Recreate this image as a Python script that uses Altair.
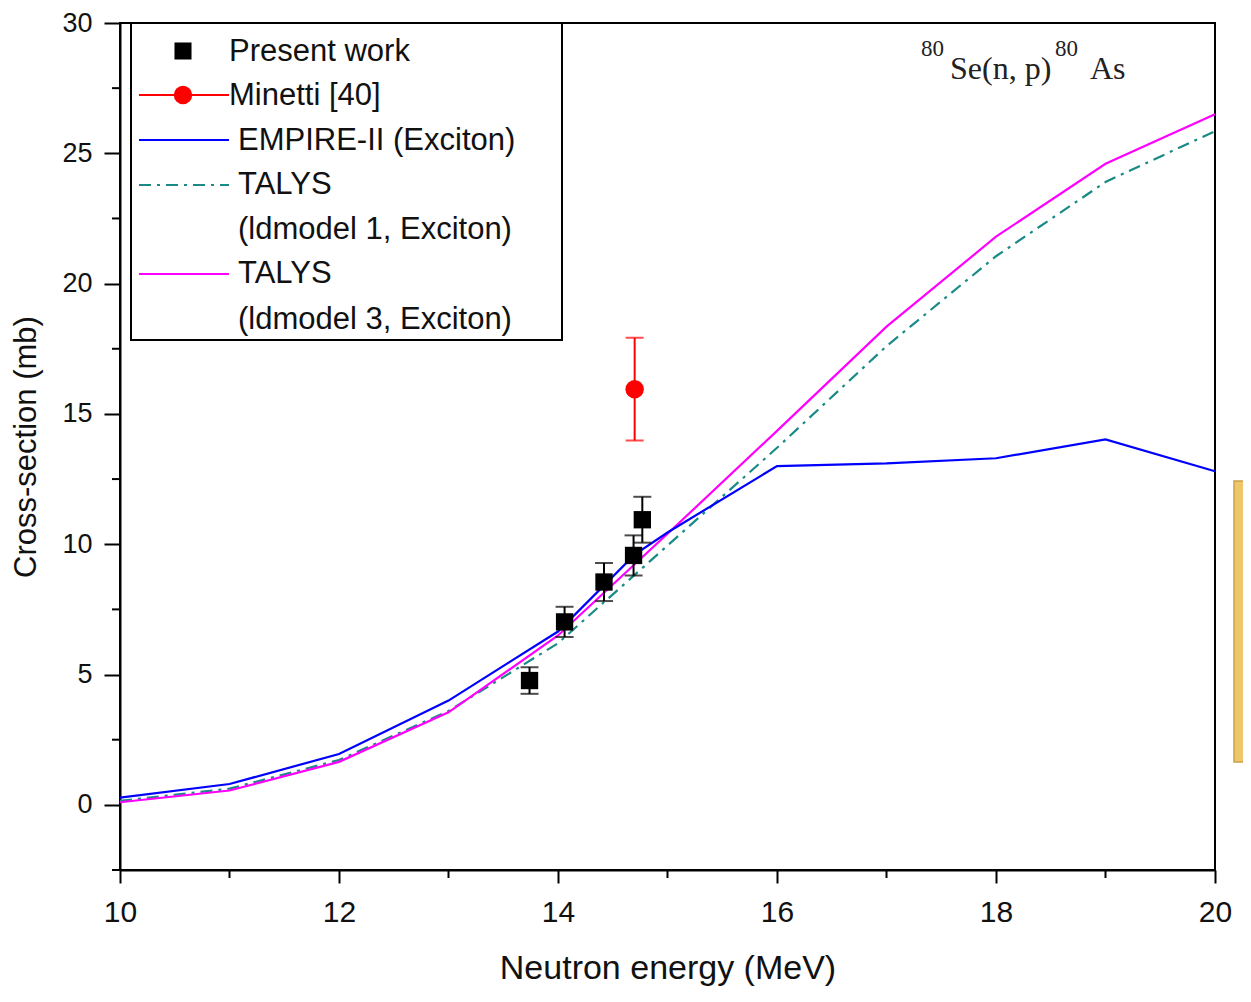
import altair as alt
import pandas as pd

# ---------------- data ----------------
pw_x = [13.74, 14.06, 14.42, 14.69, 14.77]
pw_y = [4.77, 7.02, 8.55, 9.57, 10.94]
pw_err = [0.51, 0.58, 0.73, 0.77, 0.88]

min_x = [14.70]
min_y = [15.95]
min_err = [1.97]

empire_x = [10, 11, 12, 13, 14, 14.7, 15, 16, 17, 18, 19, 20]
empire_y = [0.28, 0.8, 1.95, 4.0, 6.65, 9.6, 10.45, 13.0, 13.1, 13.3, 14.02, 12.8]

talys_x = [10, 11, 12, 13, 14, 15, 16, 17, 18, 19, 20]
talys1_y = [0.15, 0.62, 1.72, 3.6, 6.2, 9.95, 13.7, 17.6, 21.05, 23.9, 25.85]
talys3_y = [0.1, 0.55, 1.65, 3.55, 6.5, 10.4, 14.35, 18.35, 21.8, 24.6, 26.5]

x_ticks = [10, 12, 14, 16, 18, 20]
x_minor = [11, 13, 15, 17, 19]
y_ticks = [0, 5, 10, 15, 20, 25, 30]
y_minor = [-2.5, 2.5, 7.5, 12.5, 17.5, 22.5, 27.5]

W, H = 1095, 847
OY = -5  # shift for pixel-placed decorations (plot top sits at page y=23)
FONT = "Liberation Sans"

xscale = alt.Scale(domain=[10, 20], nice=False, zero=False)
yscale = alt.Scale(domain=[-2.5, 30], nice=False, zero=False)
xaxis = alt.Axis(values=x_ticks, title="Neutron energy (MeV)", format="d",
                 labelFontSize=30, titleFontSize=34, tickSize=13,
                 labelPadding=14, titlePadding=24, labelFlush=False, grid=False)
yaxis = alt.Axis(values=y_ticks, title="Cross-section (mb)", format="d",
                 labelFontSize=27, titleFontSize=31, tickSize=16,
                 labelPadding=12, titlePadding=19, labelFlush=False, grid=False)


def X(f):
    return alt.X(f, type="quantitative", scale=xscale, axis=xaxis)


def Y(f):
    return alt.Y(f, type="quantitative", scale=yscale, axis=yaxis)


pw = pd.DataFrame({"x": pw_x, "y": pw_y, "err": pw_err})
pw["lo"] = pw["y"] - pw["err"]
pw["hi"] = pw["y"] + pw["err"]
mn = pd.DataFrame({"x": min_x, "y": min_y, "err": min_err})
mn["lo"] = mn["y"] - mn["err"]
mn["hi"] = mn["y"] + mn["err"]

emp = pd.DataFrame({"x": empire_x, "y": empire_y})
t1 = pd.DataFrame({"x": talys_x, "y": talys1_y})
t3 = pd.DataFrame({"x": talys_x, "y": talys3_y})

TEAL = "#1a8a86"

l_t1 = alt.Chart(t1).mark_line(color=TEAL, strokeWidth=2.2, strokeDash=[12, 6, 3, 6]).encode(x=X("x"), y=Y("y"))
l_t3 = alt.Chart(t3).mark_line(color="#ff00ff", strokeWidth=2.2).encode(x=X("x"), y=Y("y"))
l_emp = alt.Chart(emp).mark_line(color="#0000ff", strokeWidth=2.2).encode(x=X("x"), y=Y("y"))

pw_bar = alt.Chart(pw).mark_rule(color="black", strokeWidth=2).encode(x=X("x"), y=Y("lo"), y2="hi")
pw_cap_lo = alt.Chart(pw).mark_tick(color="black", thickness=2, size=18, orient="horizontal").encode(x=X("x"), y=Y("lo"))
pw_cap_hi = alt.Chart(pw).mark_tick(color="black", thickness=2, size=18, orient="horizontal").encode(x=X("x"), y=Y("hi"))
pw_pts = alt.Chart(pw).mark_square(color="black", size=300, opacity=1).encode(x=X("x"), y=Y("y"))

mn_bar = alt.Chart(mn).mark_rule(color="#ff0000", strokeWidth=2).encode(x=X("x"), y=Y("lo"), y2="hi")
mn_cap_lo = alt.Chart(mn).mark_tick(color="#ff0000", thickness=2, size=18, orient="horizontal").encode(x=X("x"), y=Y("lo"))
mn_cap_hi = alt.Chart(mn).mark_tick(color="#ff0000", thickness=2, size=18, orient="horizontal").encode(x=X("x"), y=Y("hi"))
mn_pts = alt.Chart(mn).mark_circle(color="#ff0000", size=340, opacity=1).encode(x=X("x"), y=Y("y"))

ym = alt.Chart(pd.DataFrame({"v": y_minor})).mark_rule(color="black", strokeWidth=2).encode(
    y=Y("v"), x=alt.value(-8), x2=alt.value(0))
xm = alt.Chart(pd.DataFrame({"v": x_minor})).mark_rule(color="black", strokeWidth=2).encode(
    x=X("v"), y=alt.value(H), y2=alt.value(H + 8))

one = pd.DataFrame({"a": [0]})

# ---------------- legend (drawn) ----------------
leg_box = alt.Chart(one).mark_rect(fill="white", stroke="black", strokeWidth=2).encode(
    x=alt.value(11), x2=alt.value(442), y=alt.value(5 + OY), y2=alt.value(322 + OY))


def leg_text(t, x, y):
    return alt.Chart(one).mark_text(text=t, font=FONT, fontSize=31, align="left", baseline="middle",
                                    color="#111").encode(x=alt.value(x), y=alt.value(y + OY))


def leg_line(color, y, dash=None):
    kw = dict(color=color, strokeWidth=2.2)
    if dash:
        kw["strokeDash"] = dash
    return alt.Chart(one).mark_rule(**kw).encode(x=alt.value(19), x2=alt.value(109), y=alt.value(y + OY))


legend = [
    leg_box,
    alt.Chart(one).mark_square(color="black", size=290, opacity=1).encode(x=alt.value(63), y=alt.value(33 + OY)),
    leg_text("Present work", 109, 34),
    leg_line("#ff0000", 77),
    alt.Chart(one).mark_circle(color="#ff0000", size=340, opacity=1).encode(x=alt.value(63), y=alt.value(77 + OY)),
    leg_text("Minetti [40]", 109, 78),
    leg_line("#0000ff", 122),
    leg_text("EMPIRE-II (Exciton)", 118, 123),
    leg_line(TEAL, 167, [12, 6, 3, 6]),
    leg_text("TALYS", 118, 167),
    leg_text("(ldmodel 1, Exciton)", 118, 212),
    leg_line("#ff00ff", 256),
    leg_text("TALYS", 118, 256),
    leg_text("(ldmodel 3, Exciton)", 118, 302),
]

# ---------------- reaction label ----------------
SERIF = "Liberation Serif"


def serif(t, x, y, size):
    return alt.Chart(one).mark_text(text=t, font=SERIF, fontSize=size, align="left", baseline="alphabetic",
                                    color="#222").encode(x=alt.value(x), y=alt.value(y + OY))


reaction = [
    serif("80", 801, 38, 23),
    serif("Se(n, p)", 830, 61, 32),
    serif("80", 935, 38, 23),
    serif("As", 970, 61, 32),
]

orange = alt.Chart(one).mark_rect(fill="#eec76b", stroke="#c9a24a", strokeWidth=1.5).encode(
    x=alt.value(1114), x2=alt.value(1124), y=alt.value(463 + OY), y2=alt.value(744 + OY))

chart = alt.layer(
    l_t1, l_t3, l_emp,
    pw_bar, pw_cap_lo, pw_cap_hi, pw_pts,
    mn_bar, mn_cap_lo, mn_cap_hi, mn_pts,
    ym, xm,
    *legend, *reaction, orange,
).properties(
    width=W, height=H,
    autosize=alt.AutoSizeParams(type="none"),
    padding={"left": 112, "top": 15, "right": 28, "bottom": 118},
).configure_view(
    stroke="black", strokeWidth=2
).configure_axis(
    domainColor="black", domainWidth=2, tickColor="black", tickWidth=2,
    labelFont=FONT, titleFont=FONT, labelColor="#111", titleColor="#111",
    titleFontWeight="normal", labelOverlap=False
)

chart.save("out.html", embed_options={"renderer": "svg", "actions": False})
